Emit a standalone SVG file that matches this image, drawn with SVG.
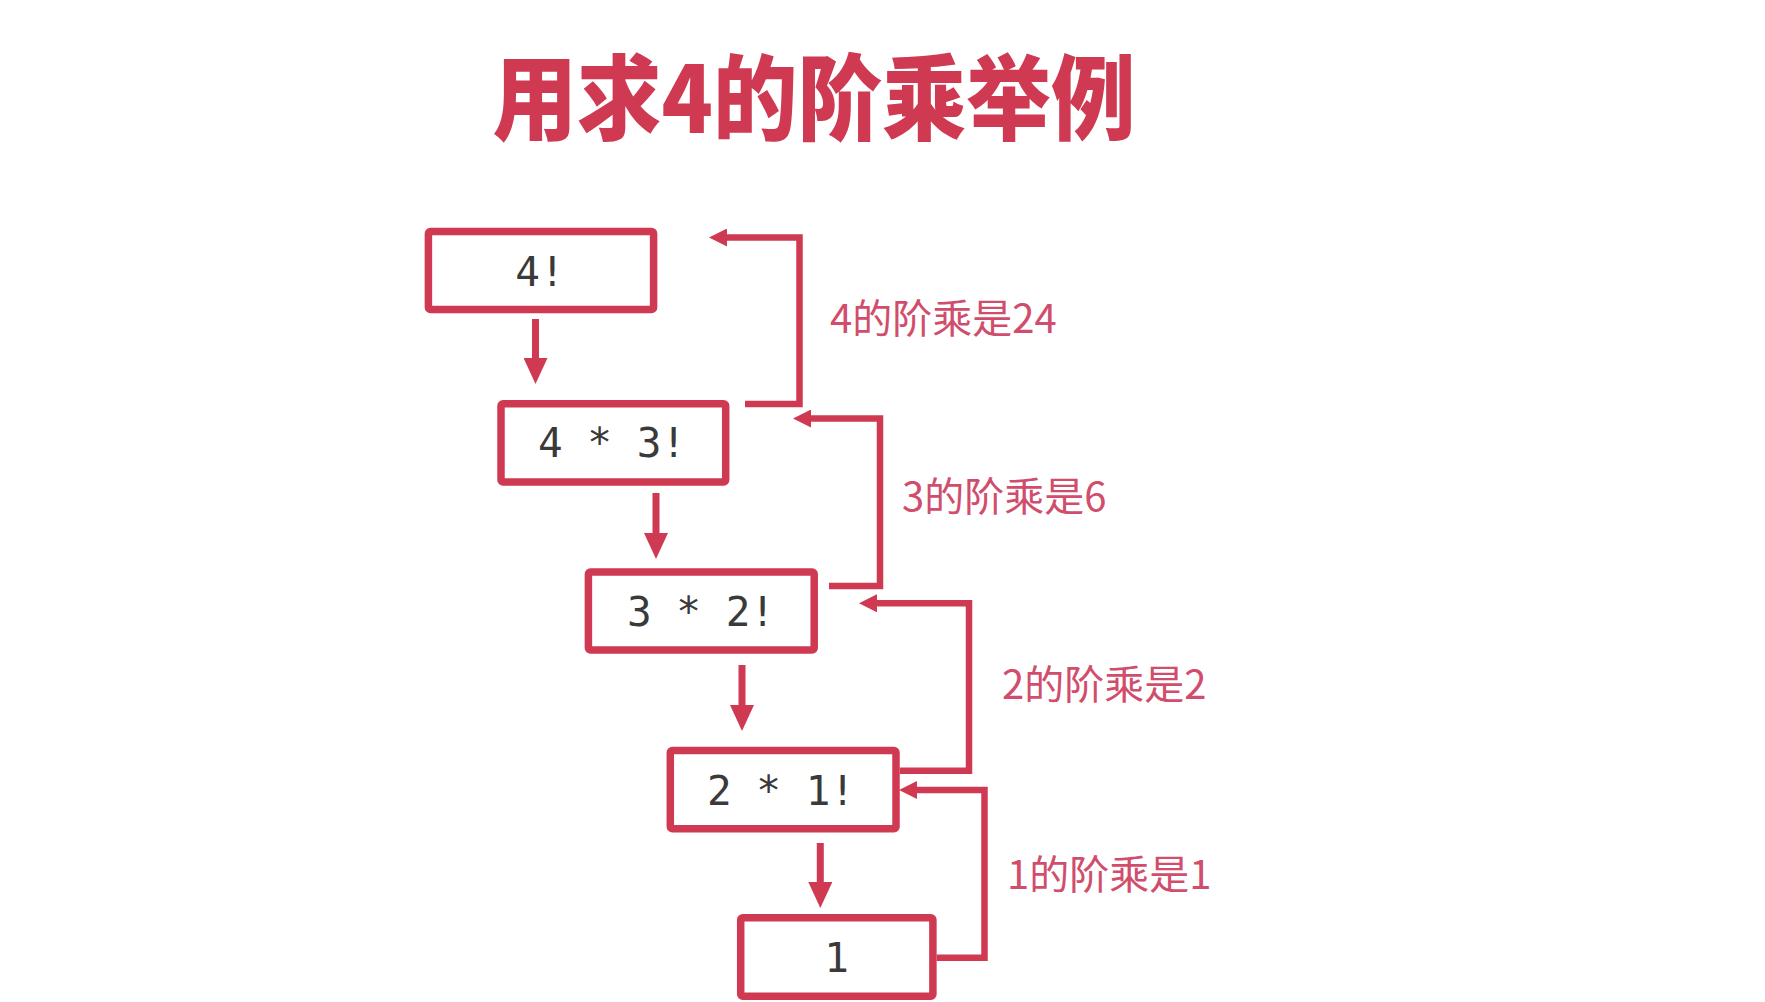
<svg xmlns="http://www.w3.org/2000/svg" width="1765" height="1002" viewBox="0 0 1765 1002">
  <style>
    .box { fill: #ffffff; stroke: #cf3a52; stroke-width: 7.5; }
    .code { font-family: "DejaVu Sans Mono", "Liberation Mono", monospace; font-size: 41px; fill: #3a3a3a; text-anchor: middle; white-space: pre; }
    .lbl { font-family: "Noto Sans CJK SC", "Noto Sans", sans-serif; font-size: 40px; fill: #d14d6c; }
    .title { font-family: "Noto Sans CJK SC", "Noto Sans", sans-serif; font-size: 93px; font-weight: 900; fill: #cf3a52; text-anchor: middle; }
    .down { fill: none; stroke: #cf3a52; stroke-width: 7; }
    .ret { fill: none; stroke: #cf3a52; stroke-width: 6.5; stroke-linejoin: miter; }
  </style>
  <defs>
    <marker id="headDown" markerUnits="userSpaceOnUse" markerWidth="26" markerHeight="24" refX="0" refY="12" orient="auto" viewBox="0 0 26 24">
      <path d="M0,0 L26,12 L0,24 z" fill="#cf3a52"/>
    </marker>
    <marker id="headRet" markerUnits="userSpaceOnUse" markerWidth="18" markerHeight="18" refX="0" refY="9" orient="auto" viewBox="0 0 18 18">
      <path d="M0,0 L18,9 L0,18 z" fill="#cf3a52"/>
    </marker>
  </defs>
  <rect x="0" y="0" width="1765" height="1002" fill="#ffffff"/>

  <text class="title" x="814" y="133" textLength="643" lengthAdjust="spacingAndGlyphs">用求4的阶乘举例</text>

  <g id="node-4fact">
    <rect class="box" x="428.4" y="231.5" width="225.2" height="78" rx="2"/>
    <text class="code" x="540" y="286">4!</text>
  </g>
  <g id="node-4x3fact">
    <rect class="box" x="501" y="403.8" width="224.7" height="78.2" rx="2"/>
    <text class="code" x="612" y="457">4 * 3!</text>
  </g>
  <g id="node-3x2fact">
    <rect class="box" x="588.4" y="572" width="225.8" height="78" rx="2"/>
    <text class="code" x="701" y="626">3 * 2!</text>
  </g>
  <g id="node-2x1fact">
    <rect class="box" x="670.3" y="750.5" width="225.7" height="78.2" rx="2"/>
    <text class="code" x="781" y="805">2 * 1!</text>
  </g>
  <g id="node-1">
    <rect class="box" x="740.7" y="917.8" width="192.2" height="78.4" rx="2"/>
    <text class="code" x="836.7" y="972">1</text>
  </g>

  <g id="connectors">
    <path class="down" d="M535.5,319 V358" marker-end="url(#headDown)"/>
    <path class="down" d="M656,493 V533" marker-end="url(#headDown)"/>
    <path class="down" d="M742,665 V705" marker-end="url(#headDown)"/>
    <path class="down" d="M820.3,843 V882" marker-end="url(#headDown)"/>

    <path class="ret" d="M745,404 H799.5 V237.5 H727" marker-end="url(#headRet)"/>
    <path class="ret" d="M829,586 H880 V418.5 H811" marker-end="url(#headRet)"/>
    <path class="ret" d="M899.8,770.7 H969 V603.3 H877" marker-end="url(#headRet)"/>
    <path class="ret" d="M936.6,957.7 H984.5 V790 H917" marker-end="url(#headRet)"/>
  </g>

  <g id="labels">
    <text class="lbl" x="830" y="333">4的阶乘是24</text>
    <text class="lbl" x="902" y="511">3的阶乘是6</text>
    <text class="lbl" x="1002" y="699">2的阶乘是2</text>
    <text class="lbl" x="1007" y="889">1的阶乘是1</text>
  </g>
</svg>
